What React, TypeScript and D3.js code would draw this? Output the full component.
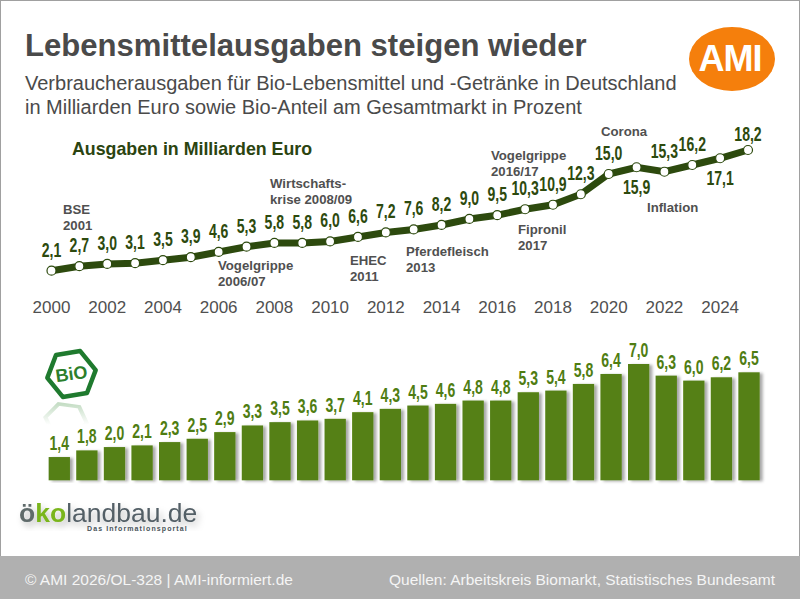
import { useEffect, useRef } from 'react';
import * as d3 from 'd3';

const years = d3.range(2000, 2026);
const spending = [2.1, 2.7, 3.0, 3.1, 3.5, 3.9, 4.6, 5.3, 5.8, 5.8, 6.0, 6.6, 7.2, 7.6, 8.2, 9.0, 9.5, 10.3, 10.9, 12.3, 15.0, 15.9, 15.3, 16.2, 17.1, 18.2];
const share = [1.4, 1.8, 2.0, 2.1, 2.3, 2.5, 2.9, 3.3, 3.5, 3.6, 3.7, 4.1, 4.3, 4.5, 4.6, 4.8, 4.8, 5.3, 5.4, 5.8, 6.4, 7.0, 6.3, 6.0, 6.2, 6.5];
const tickYears = [2000, 2002, 2004, 2006, 2008, 2010, 2012, 2014, 2016, 2018, 2020, 2022, 2024];
const labelsBelow = [2021, 2024];

const events = [
  { lines: ['BSE', '2001'], x: 63, y: 214 },
  { lines: ['Vogelgrippe', '2006/07'], x: 218, y: 270 },
  { lines: ['Wirtschafts-', 'krise 2008/09'], x: 270, y: 188 },
  { lines: ['EHEC', '2011'], x: 350, y: 265 },
  { lines: ['Pferdefleisch', '2013'], x: 406, y: 256 },
  { lines: ['Vogelgrippe', '2016/17'], x: 491, y: 160 },
  { lines: ['Fipronil', '2017'], x: 518, y: 234 },
  { lines: ['Corona'], x: 601, y: 136 },
  { lines: ['Inflation'], x: 647, y: 212 },
];

const fmt = (v: number) => v.toFixed(1).replace('.', ',');
const sans = 'Liberation Sans, Arial, sans-serif';

export default function App() {
  const svgRef = useRef<SVGSVGElement>(null);

  useEffect(() => {
    if (!svgRef.current) return;
    const svg = d3.select(svgRef.current);
    svg.selectAll('*').remove();

    const defs = svg.append('defs');
    const shadow = defs.append('filter').attr('id', 'barShadow').attr('x', '-30%').attr('width', '170%');
    shadow.append('feDropShadow').attr('dx', 3).attr('dy', 1).attr('stdDeviation', 1.8)
      .attr('flood-color', '#000').attr('flood-opacity', 0.35);
    const soft = defs.append('filter').attr('id', 'soft');
    soft.append('feDropShadow').attr('dx', 3).attr('dy', 4).attr('stdDeviation', 3)
      .attr('flood-color', '#000').attr('flood-opacity', 0.25);
    const fade = defs.append('linearGradient').attr('id', 'fade').attr('x1', 0).attr('x2', 0).attr('y1', 0).attr('y2', 1);
    fade.append('stop').attr('offset', 0.35).attr('stop-color', '#3f8f3f').attr('stop-opacity', 0);
    fade.append('stop').attr('offset', 1).attr('stop-color', '#3f8f3f').attr('stop-opacity', 0.3);

    // Rahmen und Fussleiste
    svg.append('rect').attr('width', 800).attr('height', 599).attr('fill', '#fff');
    svg.append('rect').attr('x', 0.5).attr('y', 0.5).attr('width', 799).attr('height', 598)
      .attr('fill', 'none').attr('stroke', '#a0a0a0');
    svg.append('rect').attr('y', 556).attr('width', 800).attr('height', 43).attr('fill', '#b0b0b0');

    // Titel
    svg.append('text').attr('x', 25).attr('y', 56).text('Lebensmittelausgaben steigen wieder')
      .style('font', `bold 31.1px ${sans}`).style('fill', '#4a4a4a');
    svg.append('text').attr('x', 25).attr('y', 90).text('Verbraucherausgaben für Bio-Lebensmittel und -Getränke in Deutschland')
      .style('font', `20px ${sans}`).style('fill', '#4a4a4a');
    svg.append('text').attr('x', 25).attr('y', 114).text('in Milliarden Euro sowie Bio-Anteil am Gesamtmarkt in Prozent')
      .style('font', `20px ${sans}`).style('fill', '#4a4a4a');

    // AMI Logo
    svg.append('ellipse').attr('cx', 732).attr('cy', 59).attr('rx', 43).attr('ry', 32).attr('fill', '#f57f0c');
    svg.append('text').attr('x', 730).attr('y', 71).attr('text-anchor', 'middle').text('AMI')
      .style('font', `bold 36px ${sans}`).style('fill', '#fff').style('letter-spacing', '-1px');

    svg.append('text').attr('x', 72).attr('y', 155).text('Ausgaben in Milliarden Euro')
      .style('font', `bold 17.8px ${sans}`).style('fill', '#2b4410');

    // Linie
    const x = d3.scaleLinear().domain([2000, 2025]).range([51.5, 748]);
    const y = d3.scaleLinear().domain([2.1, 18.2]).range([270.7, 150]);
    const line = d3.line<number>().x((_, i) => x(years[i])).y(d => y(d));

    svg.append('path').attr('d', line(spending)).attr('fill', 'none')
      .attr('stroke', '#2d4a0e').attr('stroke-width', 7);
    svg.append('g').selectAll('circle').data(spending).join('circle')
      .attr('cx', (_, i) => x(years[i])).attr('cy', d => y(d)).attr('r', 4.5)
      .attr('fill', '#fff').attr('stroke', '#2d4a0e').attr('stroke-width', 1.2);

    // Schrift ist im Original schmal, deshalb horizontal gestaucht
    const lineLabelY = (d: number, i: number) => {
      if (labelsBelow.includes(years[i])) return y(d) + 27;
      return y(d) - (years[i] === 2025 ? 9 : 14);
    };
    svg.append('g').selectAll('text').data(spending).join('text')
      .attr('transform', (d, i) => `translate(${x(years[i])},${lineLabelY(d, i)}) scale(0.72,1)`)
      .attr('text-anchor', 'middle')
      .text(d => fmt(d))
      .style('font', `bold 19.5px ${sans}`).style('fill', '#2d4a0e');

    svg.append('g').selectAll('text').data(tickYears).join('text')
      .attr('x', d => x(d)).attr('y', 313).attr('text-anchor', 'middle').text(d => d)
      .style('font', `17px ${sans}`).style('fill', '#505050');

    // Ereignisse
    events.forEach(ev => {
      ev.lines.forEach((t, i) => {
        svg.append('text').attr('x', ev.x).attr('y', ev.y + i * 16).text(t)
          .style('font', `bold 13.2px ${sans}`).style('fill', '#505050');
      });
    });

    // Balken
    const xb = d3.scaleBand<number>().domain(years).range([45.5, 762.8]).paddingInner(0.228).paddingOuter(0.114);
    const yb = d3.scaleLinear().domain([0, 7]).range([480.3, 364]);
    svg.append('g').selectAll('rect').data(share).join('rect')
      .attr('x', (_, i) => xb(years[i])!).attr('width', xb.bandwidth())
      .attr('y', d => yb(d)).attr('height', d => yb(0) - yb(d))
      .attr('fill', '#548014').attr('filter', 'url(#barShadow)');
    svg.append('g').selectAll('text').data(share).join('text')
      .attr('transform', (d, i) => `translate(${xb(years[i])! + xb.bandwidth() / 2},${yb(d) - 7}) scale(0.72,1)`)
      .attr('text-anchor', 'middle').text(d => fmt(d))
      .style('font', `bold 19.5px ${sans}`).style('fill', '#4f7d12');

    // Bio Siegel
    const hex = d3.lineRadial<number>().angle(d => d).radius(24.5).curve(d3.curveLinearClosed);
    const hexAngles = d3.range(6).map(i => (i * Math.PI) / 3 + 1.41);
    const bio = svg.append('g').attr('transform', 'translate(71.5,374)');
    bio.append('path').attr('d', hex(hexAngles)).attr('fill', '#fff')
      .attr('stroke', '#1f7a2e').attr('stroke-width', 4.5).attr('stroke-linejoin', 'round');
    bio.append('text').attr('y', 6).attr('text-anchor', 'middle').attr('transform', 'rotate(-8)').text('BiO')
      .style('font', `bold 18px ${sans}`).style('fill', '#2c7f2c');
    svg.append('path').attr('transform', 'translate(66,420) scale(0.85,-0.7)').attr('d', hex(hexAngles))
      .attr('fill', 'none').attr('stroke', 'url(#fade)').attr('stroke-width', 5);

    // Oekolandbau Logo
    const oeko = svg.append('text').attr('x', 19).attr('y', 521.5).style('font', `26.5px ${sans}`).attr('filter', 'url(#soft)');
    oeko.append('tspan').text('ö').style('fill', '#5f6b6b').style('font-weight', 'bold');
    oeko.append('tspan').text('ko').style('fill', '#7ab51d').style('font-weight', 'bold');
    oeko.append('tspan').text('landbau.de').style('fill', '#535f66');
    svg.append('text').attr('x', 87).attr('y', 531).text('Das Informationsportal')
      .style('font', `bold 7px ${sans}`).style('letter-spacing', '1.1px').style('fill', '#4a545a');

    // Fusszeile
    svg.append('text').attr('x', 25).attr('y', 585).text('© AMI 2026/OL-328 | AMI-informiert.de')
      .style('font', `15.5px ${sans}`).style('fill', '#f5f5f5');
    svg.append('text').attr('x', 775).attr('y', 585).attr('text-anchor', 'end')
      .text('Quellen: Arbeitskreis Biomarkt, Statistisches Bundesamt')
      .style('font', `15.5px ${sans}`).style('fill', '#f5f5f5');
  }, []);

  return <svg ref={svgRef} width={800} height={599} style={{ position: 'absolute', left: 0, top: 0 }} />;
}
